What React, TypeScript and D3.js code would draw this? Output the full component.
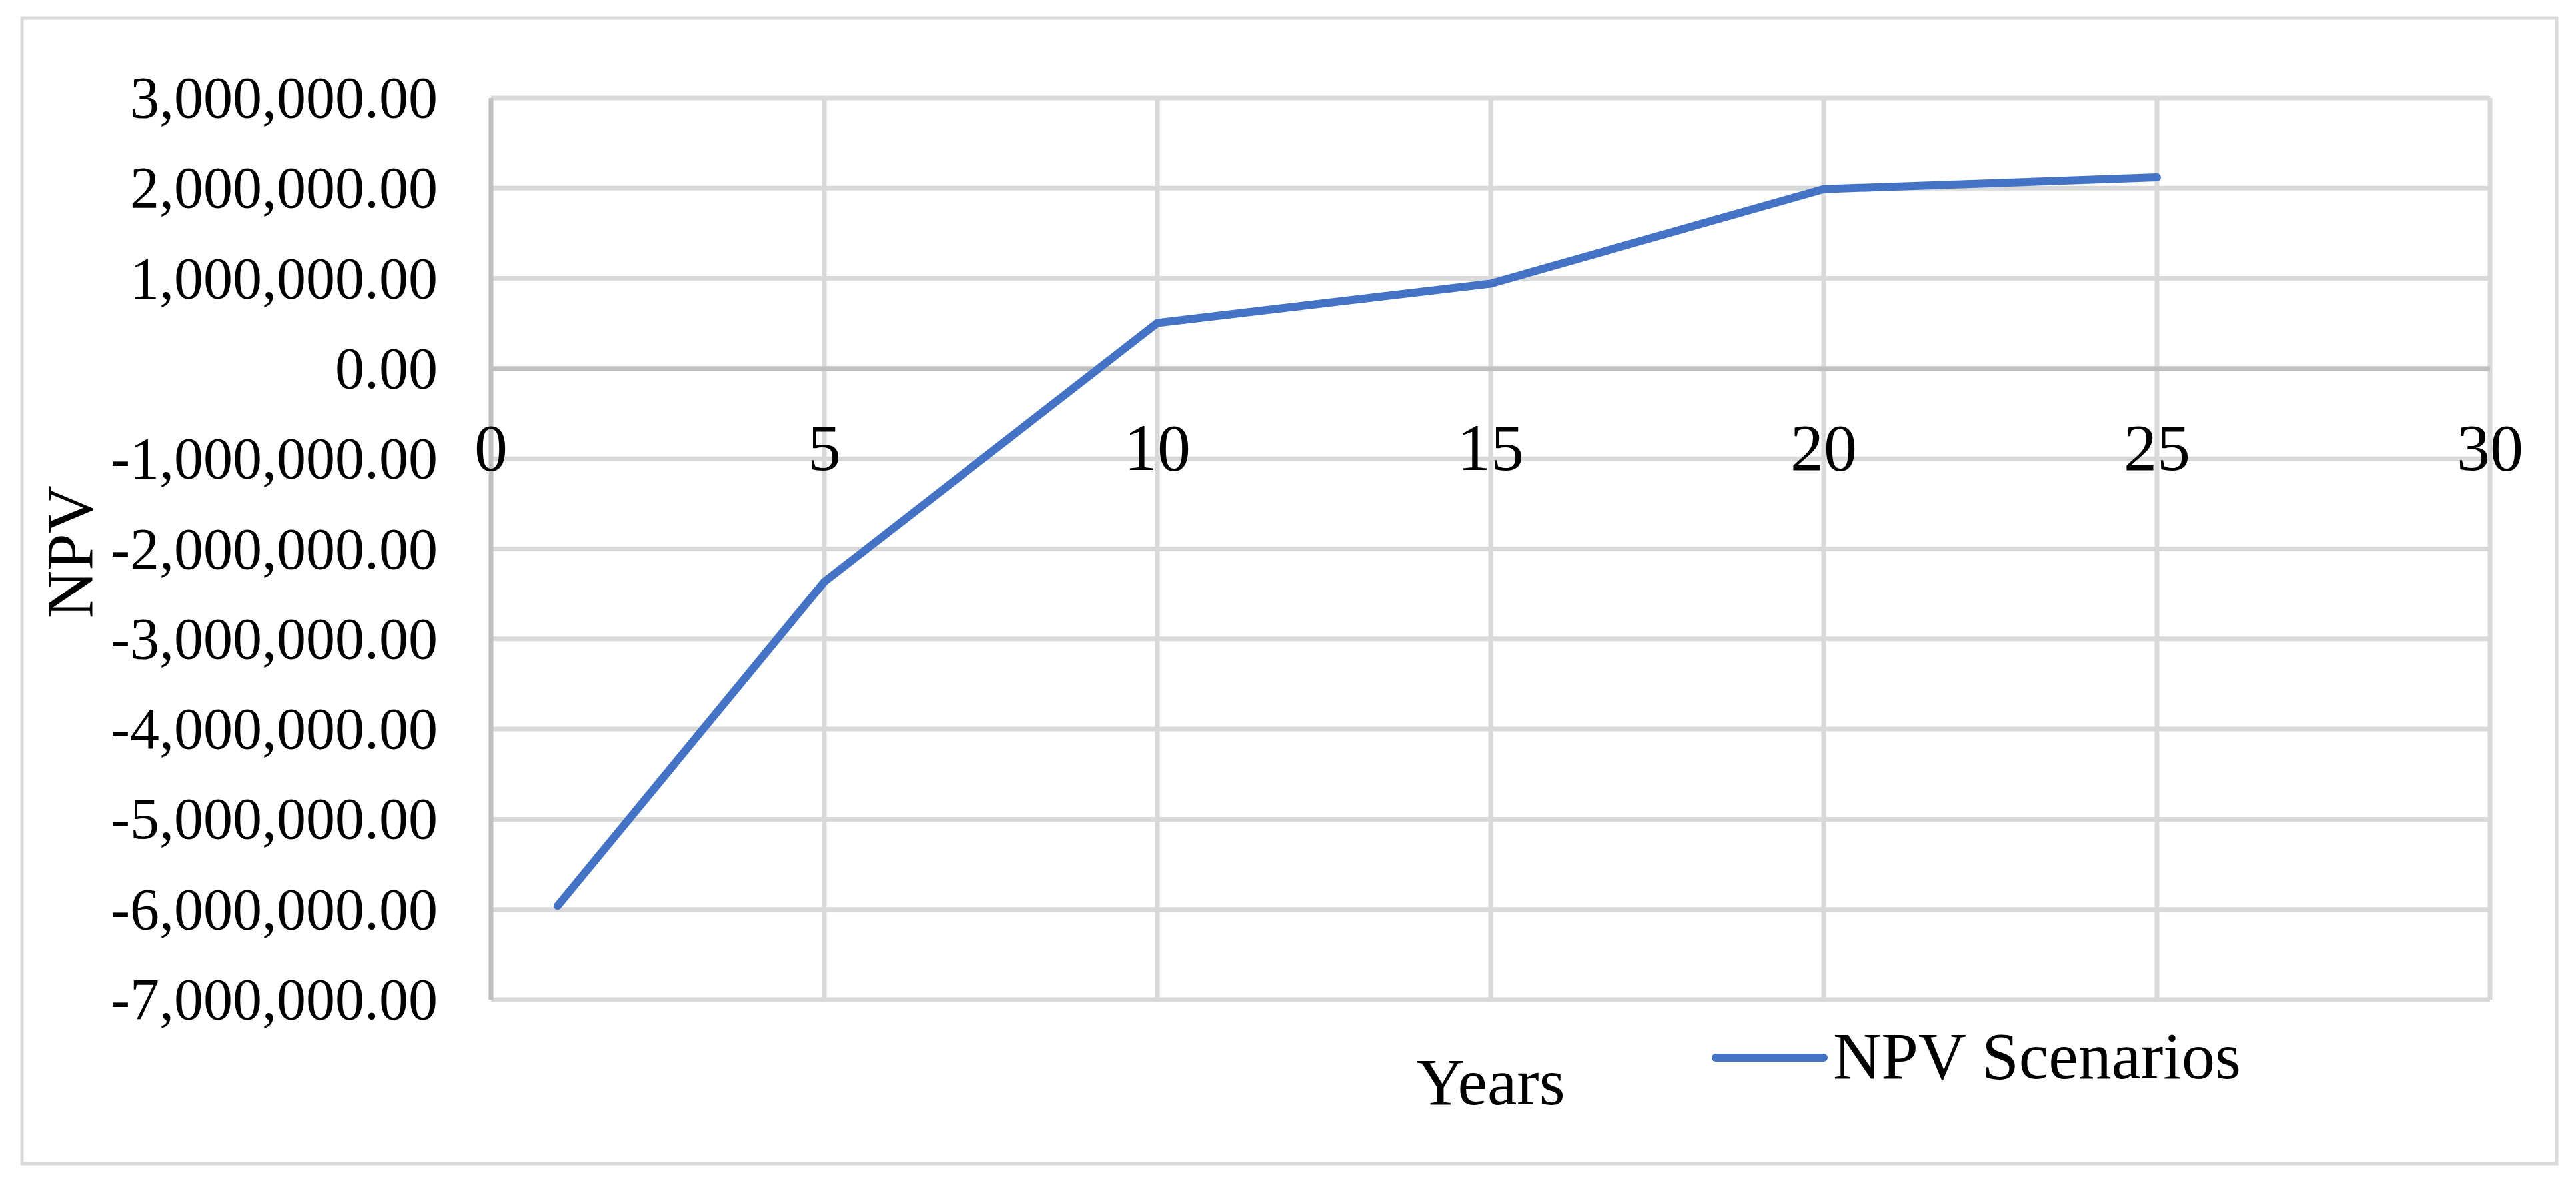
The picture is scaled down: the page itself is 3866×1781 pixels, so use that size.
import React from "react";
import * as d3 from "d3";

const years = [1, 5, 10, 15, 20, 25];
const npvValues = [-5960000, -2365000, 506000, 942000, 1990000, 2120000];
const xTicks = [0, 5, 10, 15, 20, 25, 30];
const yTicks = [3000000, 2000000, 1000000, 0, -1000000, -2000000, -3000000, -4000000, -5000000, -6000000, -7000000];
const seriesName = "NPV Scenarios";
const xTitle = "Years";
const yTitle = "NPV";

const W = 3866;
const H = 1781;
const FONT = "'Liberation Serif', 'Times New Roman', serif";

export default function App() {
  const x = d3.scaleLinear().domain([0, 30]).range([737, 3737]);
  const y = d3.scaleLinear().domain([-7000000, 3000000]).range([1500, 147]);
  const fmt = (v: number) => d3.format(",.2f")(v).replace("\u2212", "-");
  const line = d3
    .line<number>()
    .x((_, i) => x(years[i]))
    .y((d) => y(d));

  return (
    <svg
      width={W}
      height={H}
      style={{ position: "absolute", left: 0, top: 0, background: "#fff" }}
      fontFamily={FONT}
    >
      <rect x={0} y={0} width={W} height={H} fill="#fff" />
      {/* outer chart border */}
      <rect x={33} y={27} width={3837 - 33} height={1746 - 27} fill="none" stroke="#d9d9d9" strokeWidth={5} />

      {/* horizontal gridlines */}
      {yTicks.map((t) => (
        <line
          key={"hy" + t}
          x1={x(0)}
          x2={x(30)}
          y1={y(t)}
          y2={y(t)}
          stroke={t === 0 ? "#bfbfbf" : "#d9d9d9"}
          strokeWidth={7}
        />
      ))}
      {/* vertical gridlines */}
      {xTicks.map((t) => (
        <line
          key={"vx" + t}
          x1={x(t)}
          x2={x(t)}
          y1={y(3000000)}
          y2={y(-7000000)}
          stroke={t === 0 ? "#bfbfbf" : "#d9d9d9"}
          strokeWidth={7}
        />
      ))}
      {/* redraw zero line on top */}
      <line x1={x(0)} x2={x(30)} y1={y(0)} y2={y(0)} stroke="#bfbfbf" strokeWidth={7} />

      {/* y tick labels */}
      {yTicks.map((t) => (
        <text key={"yl" + t} x={657} y={y(t) + 29} textAnchor="end" fontSize={88} fill="#000">
          {fmt(t)}
        </text>
      ))}
      {/* x tick labels */}
      {xTicks.map((t) => (
        <text key={"xl" + t} x={x(t)} y={705} textAnchor="middle" fontSize={100} fill="#000">
          {t}
        </text>
      ))}

      {/* series line */}
      <path
        d={line(npvValues) || ""}
        fill="none"
        stroke="#4472C4"
        strokeWidth={12}
        strokeLinecap="round"
        strokeLinejoin="round"
      />

      {/* axis titles */}
      <text x={x(15)} y={1657} textAnchor="middle" fontSize={100} fill="#000">
        {xTitle}
      </text>
      <text
        transform={`translate(138, 828) rotate(-90)`}
        textAnchor="middle"
        fontSize={100}
        fill="#000"
      >
        {yTitle}
      </text>

      {/* legend */}
      <line x1={2575} x2={2737} y1={1587} y2={1587} stroke="#4472C4" strokeWidth={12} strokeLinecap="round" />
      <text x={2751} y={1618} fontSize={100} fill="#000">
        {seriesName}
      </text>
    </svg>
  );
}
